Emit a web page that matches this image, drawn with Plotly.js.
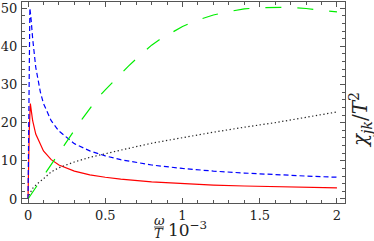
<!DOCTYPE html>
<html>
<head>
<meta charset="utf-8">
<script src="https://cdn.plot.ly/plotly-3.0.1.min.js"></script>
<style>html,body{margin:0;padding:0;background:#fff}#plot{width:374px;height:241px}</style>
</head>
<body>
<div id="plot"></div>
<script>
// omega/T (x 10^-3)
const redX   = [0, 0.004, 0.008, 0.015, 0.03, 0.05, 0.08, 0.1, 0.15, 0.2, 0.3, 0.4, 0.5, 0.6, 0.8, 1.0, 1.2, 1.4, 1.6, 1.8, 2.0];
const redY   = [0, 10, 18, 25, 20.5, 17, 14.2, 12.6, 10.3, 8.9, 7.3, 6.3, 5.7, 5.2, 4.5, 4.0, 3.65, 3.4, 3.2, 3.0, 2.9];
const blueX  = [0, 0.004, 0.008, 0.012, 0.02, 0.03, 0.05, 0.08, 0.1, 0.15, 0.2, 0.3, 0.4, 0.5, 0.6, 0.8, 1.0, 1.2, 1.4, 1.6, 1.8, 2.0];
const blueY  = [0, 25, 42, 50, 47, 42, 34.5, 28, 25, 20.5, 17.8, 14.5, 12.6, 11.3, 10.3, 8.9, 8.0, 7.3, 6.8, 6.35, 6.0, 5.7];
const greenX = [0, 0.05, 0.1, 0.15, 0.2, 0.25, 0.3, 0.35, 0.4, 0.45, 0.5, 0.55, 0.6, 0.65, 0.7, 0.75, 0.8, 0.85, 0.9, 0.95, 1.0, 1.1, 1.2, 1.3, 1.4, 1.5, 1.6, 1.7, 1.8, 1.9, 2.0];
const greenY = [0, 3.0, 6.2, 9.3, 12.3, 15.2, 18.0, 20.9, 23.8, 26.4, 28.6, 30.7, 32.8, 34.8, 36.7, 38.6, 40.3, 41.7, 42.9, 44.2, 45.2, 46.9, 48.2, 49.1, 49.8, 50.1, 50.2, 50.2, 49.9, 49.5, 49.0];
const blackX = [0, 0.01, 0.03, 0.06, 0.1, 0.15, 0.2, 0.3, 0.4, 0.5, 0.6, 0.8, 1.0, 1.2, 1.4, 1.6, 1.8, 2.0];
const blackY = [0, 1.3, 2.8, 4.0, 5.3, 7.1, 8.2, 9.7, 10.9, 11.9, 12.8, 14.6, 16.1, 17.5, 18.8, 20.0, 21.4, 22.8];
const xTicks = [0, 0.5, 1, 1.5, 2];
const xTickText = ['0', '0.5', '1', '1.5', '2'];
const yTicks = [0, 10, 20, 30, 40, 50];

const FONT = 'DejaVu Serif';
const traces = [
  {x: redX, y: redY, mode: 'lines', line: {color: '#ff0000', width: 1.2}},
  {x: blueX, y: blueY, mode: 'lines', line: {color: '#0000ff', width: 1.2, dash: '5px,3px'}},
  {x: greenX, y: greenY, mode: 'lines', line: {color: '#00ee00', width: 1.2, dash: '16px,16px'}},
  {x: blackX, y: blackY, mode: 'lines', line: {color: '#222222', width: 1.2, dash: '1.3px,2.5px'}}
];
const axisCommon = {
  showgrid: false, zeroline: false, showline: true, linecolor: '#555', linewidth: 1,
  mirror: 'allticks', ticks: 'inside', ticklen: 5, tickcolor: '#555', tickwidth: 1,
  ticklabeloverflow: 'allow',
  tickfont: {family: FONT, size: 13, color: '#222'}
};
const layout = {
  width: 374, height: 241,
  font: {family: FONT},
  margin: {l: 22, r: 29, t: 2, b: 38},
  paper_bgcolor: '#fff', plot_bgcolor: '#fff',
  showlegend: false,
  xaxis: Object.assign({}, axisCommon, {
    range: [-0.039, 2.052], tickvals: xTicks, ticktext: xTickText,
    minor: {ticks: 'inside', dtick: 0.1, ticklen: 3, tickcolor: '#555', showgrid: false}
  }),
  yaxis: Object.assign({}, axisCommon, {
    range: [-1.05, 51.6], tickvals: yTicks, ticklabelstandoff: 1,
    minor: {ticks: 'inside', dtick: 2, ticklen: 3, tickcolor: '#555', showgrid: false}
  }),
  annotations: [
    {xref: 'paper', yref: 'paper', x: (159 - 22) / 323, y: (203 - 220) / 201, text: '<i>ω</i>', showarrow: false, font: {family: FONT, size: 13, color: '#222'}, xanchor: 'center', yanchor: 'middle'},
    {xref: 'paper', yref: 'paper', x: (159 - 22) / 323, y: (203 - 233) / 201, text: '<i>T</i>', showarrow: false, font: {family: FONT, size: 13, color: '#222'}, xanchor: 'center', yanchor: 'middle'},
    {xref: 'paper', yref: 'paper', x: (166 - 22) / 323, y: (203 - 229) / 201, text: '10<sup>−3</sup>', showarrow: false, font: {family: FONT, size: 17, color: '#222'}, xanchor: 'left', yanchor: 'middle'},
    {xref: 'paper', yref: 'paper', x: (360 - 22) / 323, y: (203 - 120) / 201, text: '<i>χ<sub>jk</sub></i>/<i>T</i><sup>2</sup>', textangle: -90, showarrow: false, font: {family: FONT, size: 20, color: '#222'}, xanchor: 'center', yanchor: 'middle'}
  ],
  shapes: [
    {type: 'line', xref: 'paper', yref: 'paper', x0: (154 - 22) / 323, x1: (164 - 22) / 323, y0: (203 - 227) / 201, y1: (203 - 227) / 201, line: {color: '#222', width: 0.8}}
  ]
};
Plotly.newPlot('plot', traces, layout, {staticPlot: true, displayModeBar: false});
</script>
</body>
</html>
